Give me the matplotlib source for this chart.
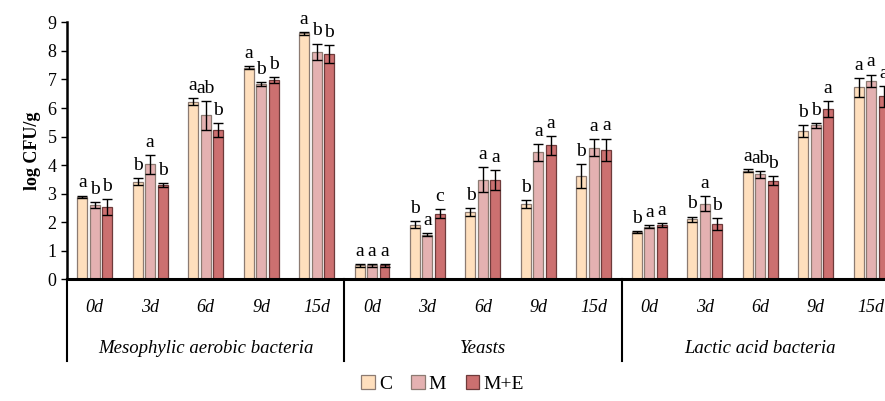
import numpy as np
import matplotlib
matplotlib.use("Agg")
import matplotlib.pyplot as plt
import matplotlib.transforms as mtrans

plt.rcParams['font.family'] = ['Liberation Serif', 'DejaVu Serif']

#====================================== data ======================================
groups = ["Mesophylic aerobic bacteria", "Yeasts", "Lactic acid bacteria"]
days = ["0d", "3d", "6d", "9d", "15d"]
series = ["C", "M", "M+E"]

# mean values, order: meso(0..15d), yeasts(0..15d), lactic(0..15d)
val_C  = [2.88, 3.42, 6.22, 7.42, 8.62,
          0.48, 1.90, 2.36, 2.63, 3.60,
          1.64, 2.09, 3.80, 5.19, 6.72]
val_M  = [2.60, 4.02, 5.74, 6.84, 7.98,
          0.48, 1.56, 3.49, 4.44, 4.60,
          1.83, 2.65, 3.67, 5.39, 6.95]
val_ME = [2.52, 3.30, 5.23, 6.97, 7.89,
          0.48, 2.30, 3.46, 4.69, 4.53,
          1.88, 1.94, 3.45, 5.97, 6.41]

err_C  = [0.05, 0.12, 0.13, 0.05, 0.05,
          0.04, 0.12, 0.14, 0.13, 0.42,
          0.04, 0.10, 0.06, 0.22, 0.32]
err_M  = [0.10, 0.32, 0.50, 0.08, 0.28,
          0.04, 0.04, 0.45, 0.30, 0.30,
          0.05, 0.25, 0.13, 0.08, 0.22]
err_ME = [0.28, 0.06, 0.25, 0.10, 0.32,
          0.04, 0.15, 0.35, 0.33, 0.40,
          0.07, 0.21, 0.16, 0.28, 0.36]

let_C  = ["a", "b", "a", "a", "a",  "a", "b", "b", "b", "b",  "b", "b", "a", "b", "a"]
let_M  = ["b", "a", "ab", "b", "b",  "a", "a", "a", "a", "a",  "a", "a", "ab", "b", "a"]
let_ME = ["b", "b", "b", "b", "b",  "a", "c", "a", "a", "a",  "a", "b", "b", "a", "a"]

colors = ["#FFDFBD", "#E4B1B1", "#CC7070"]
edges  = ["#8C7B72", "#8C7B72", "#6E3B3B"]

#====================================== plot ======================================
fig = plt.figure(figsize=(8.85, 4.01), dpi=100)
ax = fig.add_axes([0.0757, 0.304, 0.94, 0.640])

x = np.arange(len(val_C))
w, step = 0.18, 0.225
vals = [val_C, val_M, val_ME]
errs = [err_C, err_M, err_ME]
lets = [let_C, let_M, let_ME]

for k in range(3):
    xs = x + (k - 1)*step
    ax.bar(xs, vals[k], width=w, color=colors[k], edgecolor=edges[k],
           linewidth=0.9, label=series[k], zorder=2)
    ax.errorbar(xs, vals[k], yerr=errs[k], fmt='none', ecolor='black',
                elinewidth=1.0, capsize=3.6, capthick=1.0, zorder=3)
    for xi, v, e, t in zip(xs, vals[k], errs[k], lets[k]):
        ax.annotate(t, (xi, v + e), xytext=(0, 3), textcoords='offset points',
                    ha='center', va='bottom', fontsize=14)

ax.set_xlim(-0.5, 14.5)
ax.set_ylim(0, 9)
ax.set_yticks(range(0, 10))
ax.tick_params(axis='y', labelsize=13, length=4, width=1, direction='out')
ax.set_xticks([])
ax.set_ylabel("log CFU/g", fontsize=13, fontweight='bold', labelpad=5)

for s in ['top', 'right']:
    ax.spines[s].set_visible(False)
ax.spines['bottom'].set_linewidth(2.2)
ax.spines['left'].set_linewidth(1.8)

# category labels and group separators below the axis
trans = mtrans.blended_transform_factory(ax.transData, ax.transAxes)
for i, xi in enumerate(x):
    ax.text(xi, -0.11, days[i % 5], transform=trans, ha='center', va='center',
            fontsize=13, style='italic')
for g, name in enumerate(groups):
    ax.text(5*g + 2, -0.27, name, transform=trans, ha='center', va='center',
            fontsize=13.5, style='italic')
for b in [-0.5, 4.5, 9.5, 14.5]:
    ax.plot([b, b], [0, -0.32], transform=trans, color='black', lw=1.5,
            clip_on=False)

fig.legend(loc='center', bbox_to_anchor=(0.5, 0.043), ncol=3, frameon=False,
           fontsize=14, handlelength=0.7, handleheight=0.7, handletextpad=0.2,
           columnspacing=1.0)

plt.savefig("out.png", dpi=100)
